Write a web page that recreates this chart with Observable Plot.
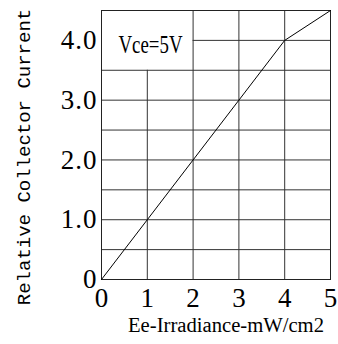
<!DOCTYPE html>
<html><head><meta charset="utf-8">
<script src="https://cdn.jsdelivr.net/npm/d3@7"></script>
<script src="https://cdn.jsdelivr.net/npm/@observablehq/plot@0.6"></script>
<style>body{margin:0;background:#fff}</style>
</head><body><div id="chart"></div>
<script>
// Curve data
const irradiance = [0, 1, 2, 3, 4, 5];
const relCurrent = [0, 1, 2, 3, 4, 4.5];
// Tick values / labels
const xTicks = [0, 1, 2, 3, 4, 5];
const yTicks = [0, 1, 2, 3, 4];
const yTickLabels = ["0", "1.0", "2.0", "3.0", "4.0"];
// Grid lines (the box containing the annotation is left clear)
const hGridY = [0.5, 1, 1.5, 2, 2.5, 3, 3.5, 4];
const hGridFrom = [0, 0, 0, 0, 0, 0, 0, 2];
const vGridX = [1, 2, 3, 4];
const vGridTo = [3.5, 4.5, 4.5, 4.5];
// Texts
const annotation = ["Vce=5V"];
const annotationX = [1.07];
const annotationY = [3.93];
const xLabel = "Ee-Irradiance-mW/cm2";
const yLabel = "Relative Collector Current";

const curve = irradiance.map((x, i) => ({x, y: relCurrent[i]}));
const hGrid = hGridY.map((y, i) => ({y, x1: hGridFrom[i], x2: 5}));
const vGrid = vGridX.map((x, i) => ({x, y1: 0, y2: vGridTo[i]}));
const notes = annotation.map((t, i) => ({t, x: annotationX[i], y: annotationY[i]}));

const serif = "Liberation Serif";
const mono = "Liberation Mono";
const plot = Plot.plot({
  width: 338, height: 344,
  marginLeft: 101, marginRight: 8, marginTop: 10, marginBottom: 65,
  style: {background: "#fff", color: "#000"},
  x: {domain: [0, 5]},
  y: {domain: [0, 4.5]},
  marks: [
    Plot.ruleY(hGrid, {y: "y", x1: "x1", x2: "x2", stroke: "#333", strokeWidth: 1}),
    Plot.ruleX(vGrid, {x: "x", y1: "y1", y2: "y2", stroke: "#333", strokeWidth: 1}),
    Plot.frame({stroke: "#222", strokeWidth: 1}),
    Plot.line(curve, {x: "x", y: "y", stroke: "#000", strokeWidth: 1}),
    Plot.axisX({ticks: xTicks, tickSize: 0, tickPadding: 8, fontSize: 27, fontFamily: serif, label: null, tickFormat: d => String(d), className: "xt"}),
    Plot.axisY({ticks: yTicks, tickSize: 0, tickPadding: 4, fontSize: 27, fontFamily: serif, label: null, tickFormat: d => yTickLabels[yTicks.indexOf(d)], className: "yt"}),
    Plot.text(notes, {x: "x", y: "y", text: "t", fontSize: 25, fontFamily: serif, fill: "#000", className: "note"}),
    Plot.text([xLabel], {frameAnchor: "bottom", dx: 10, dy: 52, fontSize: 20, fontFamily: serif, fill: "#000", className: "xlab"}),
    Plot.text([yLabel], {frameAnchor: "left", textAnchor: "middle", rotate: -90, dx: -78, dy: 12, fontSize: 19, fontFamily: mono, fill: "#000", className: "ylab"})
  ]
});
document.getElementById("chart").appendChild(plot);
const svg = d3.select(plot);
svg.selectAll(".xt text, .yt text, .note text, .xlab text").style("font-family", serif);
svg.selectAll(".ylab text").style("font-family", mono);
// condense texts to the reference widths
svg.selectAll(".note text").attr("textLength", 64).attr("lengthAdjust", "spacingAndGlyphs");
svg.selectAll(".xlab text").attr("textLength", 196).attr("lengthAdjust", "spacingAndGlyphs");
svg.selectAll(".yt text").attr("letter-spacing", 1);
</script>
</body></html>
